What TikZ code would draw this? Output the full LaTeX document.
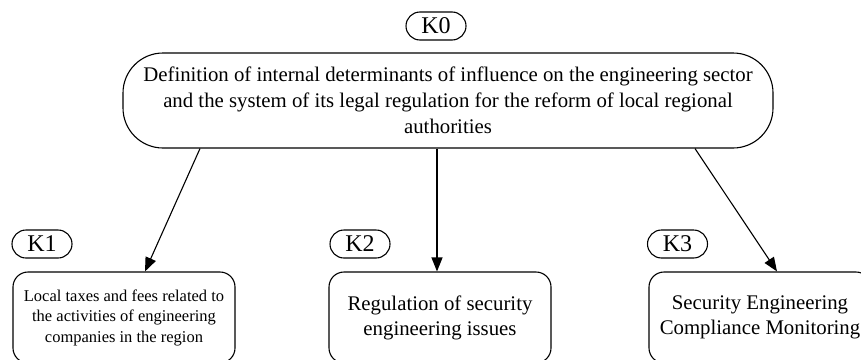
\documentclass[tikz,border=0pt]{standalone}
\usepackage{fontspec}
\setmainfont{Liberation Serif}
\usetikzlibrary{arrows.meta,calc}
\begin{document}
\begin{tikzpicture}[x=1pt,y=-1pt,
  every node/.style={inner sep=0pt},
  mainbox/.style={draw,line width=1.1pt,rounded corners=40pt,minimum width=650pt,minimum height=95pt,align=center,font=\fontsize{20.8}{26}\selectfont},
  subbox/.style={draw,line width=1.1pt,rounded corners=15pt,minimum width=222pt,minimum height=91pt,align=center},
  tag/.style={draw,line width=1.1pt,rounded corners=14pt,minimum width=60pt,minimum height=28pt,font=\fontsize{24}{26}\selectfont},
  arr/.style={line width=1.1pt,-{Triangle[length=14pt,width=11pt]}}]
  % canvas (boxes at the lower edge run past it and are cut off)
  \path[use as bounding box,clip] (0,0) rectangle (861,359);

  % top level
  \node[tag] (t0) at (436,26) {K0};
  \node[mainbox] (main) at (448,100.5) {Definition of internal determinants of influence on the engineering sector\\
    and the system of its legal regulation for the reform of local regional\\
    authorities};

  % second level
  \node[tag] (t1) at (42,244) {K1};
  \node[tag] (t2) at (360,244) {K2};
  \node[tag] (t3) at (677.5,244) {K3};

  \node[subbox,font=\fontsize{16.5}{20.5}\selectfont] (b1) at (124,317.5) {Local taxes and fees related to\\
    the activities of engineering\\ companies in the region};
  \node[subbox,font=\fontsize{20.8}{25}\selectfont] (b2) at (440,317.5) {Regulation of security\\ engineering issues};
  \node[subbox,font=\fontsize{20.8}{25}\selectfont] (b3) at (760,317.5) {Security Engineering\\ Compliance Monitoring};

  % connectors
  \draw[arr] ($(main.south)+(-248,0)$) -- ($(b1.north)+(21,0)$);
  \draw[arr] ($(main.south)+(-11,0)$) -- ($(b2.north)+(-3,0)$);
  \draw[arr] ($(main.south)+(247,0)$) -- ($(b3.north)+(17,0)$);
\end{tikzpicture}
\end{document}
